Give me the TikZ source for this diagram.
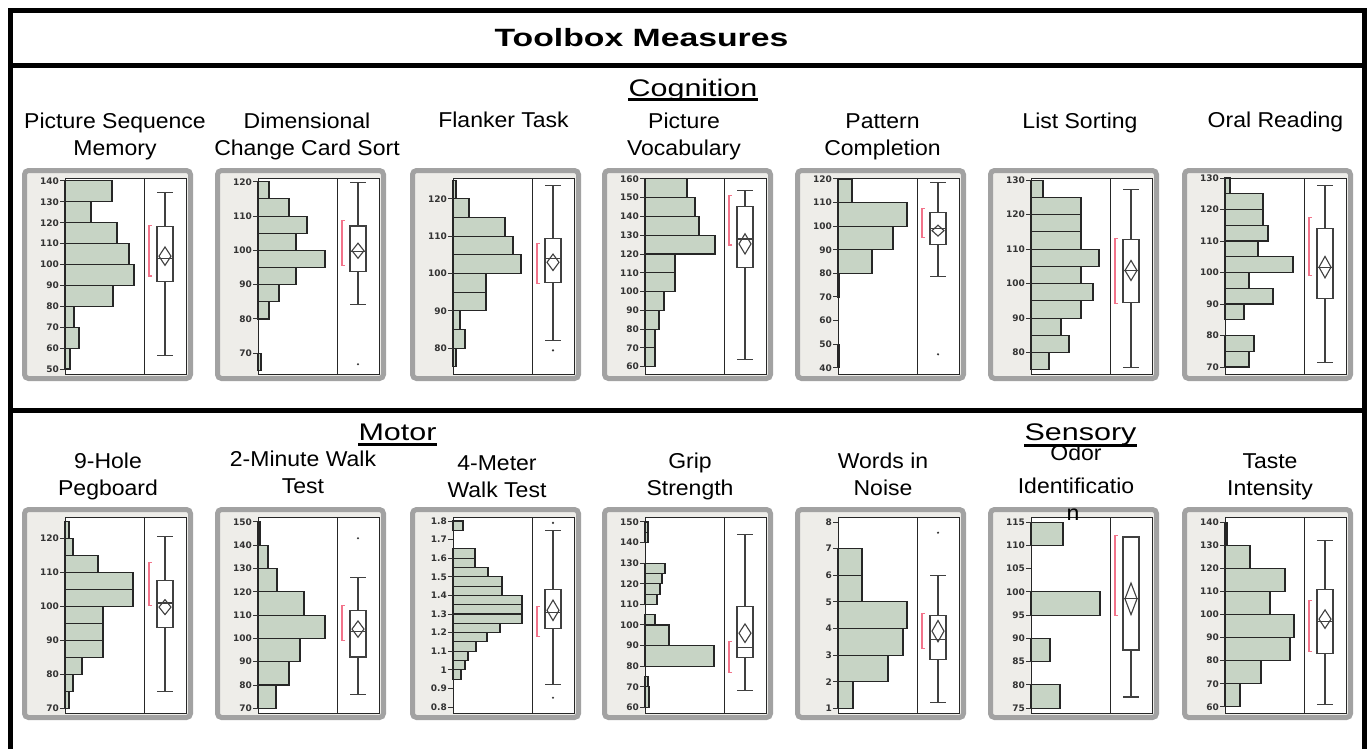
\documentclass[tikz,border=0pt]{standalone}
\usepackage{fontspec}
\setmainfont{Liberation Sans}
\newfontfamily\titlefont{Liberation Sans}[FakeStretch=1.35]
\newfontfamily\headfont{Liberation Sans}[FakeStretch=1.27]
\newfontfamily\labelfont{Liberation Sans}[FakeStretch=1.07]
\newfontfamily\tickfont{DejaVu Sans}
\usepackage{tikz}
\definecolor{barG}{HTML}{C7D4C5}
\definecolor{axisG}{HTML}{EEEDE9}
\definecolor{frameG}{HTML}{A2A2A2}
\definecolor{halfR}{HTML}{F2738A}

% one JMP panel: #1 name, #2 x, #3 y, #4 value at plot top, #5 px per unit,
% #6 ticks, #7 bars lo/hi/len, #8 box, #9 outliers
\newcommand{\histpanel}[9]{%
  \begin{scope}[shift={(#2,#3)}]
    \path[panelframe] (2.5,2.5) rectangle (168.5,210.5);
    \path[plotarea] (43,10) rectangle (164,206);
  \end{scope}
  \begin{scope}[shift={(#2,{#3+10+#4*#5})}, y=#5pt]
    \foreach \lo/\hi/\len in {#7}
      \draw[bar] (43,\lo) rectangle ({43+\len},\hi);
    \foreach \v [count=\k] in {#6} {
      \draw[tickmark] (38,\v) -- (43,\v);
      \node[ticklab] (#1-\k) at (37,\v) {\v};
    }
    \foreach \wlo/\qa/\med/\qc/\whi/\mean/\dhalf/\blo/\bhi in {#8} {
      \draw[whisk] (143,\wlo) -- (143,\whi) (135,\wlo) -- (151,\wlo) (135,\whi) -- (151,\whi);
      \draw[whisk, fill=white] (135,\qa) rectangle (151,\qc);
      \draw[whisk] (135,\med) -- (151,\med);
      \draw[whisk] (137,\mean) -- (143,{\mean+\dhalf}) -- (149,\mean) -- (143,{\mean-\dhalf}) -- cycle;
      \draw[shorthalf] (130,\blo) -- (127,\blo) -- (127,\bhi) -- (130,\bhi);
    }
    \def\panelout{#9}%
    \ifx\panelout\empty\else
      \foreach \o in {#9} \fill[outlier] (143,\o) circle[radius=1.2pt];
    \fi
  \end{scope}
  \begin{scope}[shift={(#2,#3)}]
    \draw[plotline] (43,10) rectangle (164,206) (122,10) -- (122,206);
  \end{scope}
}

\begin{document}
\begin{tikzpicture}[x=1pt, y=-1pt,
  heavy/.style={line width=5pt, draw=black},
  titletext/.style={font=\titlefont\bfseries\fontsize{25}{30}\selectfont, anchor=base, inner sep=0pt},
  head/.style={font=\headfont\fontsize{24}{28}\selectfont, anchor=base, inner sep=0pt},
  uline/.style={line width=3pt, draw=black},
  measure/.style={font=\labelfont\fontsize{21.5}{27}\selectfont, align=center, anchor=base, inner sep=0pt},
  panelframe/.style={draw=frameG, fill=axisG, line width=5pt, rounded corners=4pt},
  plotarea/.style={fill=white},
  plotline/.style={draw=black!85, line width=1pt},
  bar/.style={draw=black!85, fill=barG, line width=1.1pt},
  tickmark/.style={draw=black!80, line width=1pt},
  ticklab/.style={font=\tickfont\bfseries\fontsize{9}{10}\selectfont, text=black!80, anchor=east, inner sep=0pt},
  whisk/.style={draw=black!75, line width=1.1pt},
  shorthalf/.style={draw=halfR, line width=1.1pt},
  outlier/.style={fill=black!80},
  ]
\useasboundingbox (0,0) rectangle (1370,748);
% ---- frames
\draw[heavy] (10,10.5) rectangle (1364,410);
\draw[heavy] (10,65.5) -- (1364,65.5);
\draw[heavy] (10,410) rectangle (1364,760);
\node[titletext] (title) at (641.5,46) {Toolbox Measures};
% ---- cognition (base anchor sits on the last line)
\node[head] (cog) at (693,96.5) {Cognition};
\draw[uline] ([yshift=-3pt]cog.base west) -- ([yshift=-3pt]cog.base east);
\node[measure] (seqlab) at (115,155.5) {Picture Sequence\\Memory};
\node[measure] (dccslab) at (307,155) {Dimensional\\Change Card Sort};
\node[measure] (flanklab) at (503.5,127.5) {Flanker Task};
\node[measure] (vocablab) at (684,155) {Picture\\Vocabulary};
\node[measure] (patlab) at (882.5,155) {Pattern\\Completion};
\node[measure] (listlab) at (1080,128) {List Sorting};
\node[measure] (readlab) at (1275.5,127.5) {Oral Reading};
\histpanel{seqmem}{22}{168}{141.4}{2.09}{50,60,...,140}
  {130/140/47, 120/130/26, 110/120/52, 100/110/64, 90/100/69, 80/90/48, 70/80/9, 60/70/14, 50/60/5}
  {56.3/91.8/103/118.1/134.4/104/4.4/94.5/118.5}{}
\histpanel{dccs}{215}{168}{121.1}{3.43}{70,80,...,120}
  {115/120/11, 110/115/31, 105/110/49, 100/105/38, 95/100/67, 90/95/38, 85/90/21, 80/85/11, 65/70/3}
  {84.3/93.8/99.6/107.1/119.8/99.9/2.2/95.7/108.8}{66.8}
\histpanel{flank}{410}{168}{125.6}{3.73}{80,90,...,120}
  {120/125/3, 115/120/16, 110/115/52, 105/110/60, 100/105/68, 95/100/33, 90/95/33, 85/90/7, 80/85/12, 75/80/3}
  {82.1/97.7/104.1/109.5/123.6/103/2.2/97.4/108.1}{79.4}
\histpanel{vocab}{602}{168}{160.5}{1.877}{60,70,...,160}
  {150/160/42, 140/150/50, 130/140/54, 120/130/70, 110/120/30, 100/110/30, 90/100/19, 80/90/14, 70/80/10, 60/70/10}
  {63.9/112.8/128/145.3/153.8/125.4/5.4/124.8/151}{}
\histpanel{pattern}{795}{168}{120.4}{2.36}{40,50,...,120}
  {110/120/14, 100/110/69, 90/100/55, 80/90/34, 70/80/1, 40/50/1}
  {78.6/92.3/99.1/105.9/118.6/98.1/2.3/95.2/107.6}{45.7}
\histpanel{listsort}{988}{168}{130.6}{3.45}{80,90,...,130}
  {125/130/12, 120/125/50, 115/120/50, 110/115/50, 105/110/68, 100/105/50, 95/100/62, 90/95/50, 85/90/30, 80/85/38, 75/80/18}
  {75.8/94.4/103.8/112.8/127.3/103.8/2.9/94.2/113.1}{}
\histpanel{reading}{1182}{168}{130}{3.15}{70,80,...,130}
  {125/130/5, 120/125/38, 115/120/38, 110/115/43, 105/110/33, 100/105/68, 95/100/24, 90/95/48, 85/90/19, 75/80/29, 70/75/24}
  {71.4/91.7/101.7/113.9/127.5/101.7/3.4/99/117.5}{}
% ---- motor and sensory
\node[head] (motor) at (397.5,440) {Motor};
\draw[uline] ([yshift=-4pt]motor.base west) -- ([yshift=-4pt]motor.base east);
\node[head] (sensory) at (1080.5,440) {Sensory};
\draw[uline] ([yshift=-5pt]sensory.base west) -- ([yshift=-5pt]sensory.base east);
\node[measure] (peglab) at (108,495) {9-Hole\\Pegboard};
\node[measure] (walktwolab) at (303,493) {2-Minute Walk\\Test};
\node[measure] (walkfourlab) at (497,497) {4-Meter\\Walk Test};
\node[measure] (griplab) at (690,495) {Grip\\Strength};
\node[measure] (noiselab) at (883,495) {Words in\\Noise};
\node[measure] (odorlab) at (1076,493) {Odor\\[6pt]Identificatio};
\node[measure] (tastelab) at (1270,495) {Taste\\Intensity};
\histpanel{peg}{22}{507}{126.3}{3.4}{70,80,...,120}
  {120/125/4, 115/120/8, 110/115/33, 105/110/68, 100/105/68, 95/100/38, 90/95/38, 85/90/38, 80/85/17, 75/80/8, 70/75/4}
  {74.9/93.7/101/107.5/120.5/99.8/2.2/100.2/113}{}
\histpanel{walktwo}{215}{507}{152.1}{2.33}{70,80,...,150}
  {140/150/2, 130/140/10, 120/130/19, 110/120/46, 100/110/67, 90/100/42, 80/90/31, 70/80/18}
  {76/92/103/112/126/104/3.5/99/114}{143}
\histpanel{walkfour}{410}{507}{1.8215}{186}{0.8,0.9,1,1.1,1.2,1.3,1.4,1.5,1.6,1.7,1.8}
  {1.75/1.8/10, 1.6/1.65/22, 1.55/1.6/22, 1.5/1.55/35, 1.45/1.5/49, 1.4/1.45/49, 1.35/1.4/69, 1.3/1.35/69, 1.25/1.3/69, 1.2/1.25/47, 1.15/1.2/34, 1.1/1.15/23, 1.05/1.1/15, 1/1.05/12, 0.95/1/8}
  {0.92/1.22/1.31/1.43/1.75/1.32/0.055/1.18/1.34}{1.79,0.85}
\histpanel{grip}{602}{507}{152.4}{2.06}{60,70,...,150}
  {145/150/3, 140/145/3, 125/130/20, 120/125/17, 115/120/15, 110/115/12, 100/105/10, 90/100/24, 80/90/69, 70/75/3, 60/70/4}
  {68/84/89/109/144/96/4.5/77/92}{}
\histpanel{noise}{795}{507}{8.19}{26.6}{1,2,...,8}
  {6/7/24, 5/6/24, 4/5/69, 3/4/65, 2/3/50, 1/2/15}
  {1.2/2.85/3.6/4.5/6/3.9/0.4/3.25/4.55}{7.6}
\histpanel{odor}{988}{507}{116.1}{4.65}{75,80,...,115}
  {110/115/32, 95/100/69, 85/90/19, 75/80/29}
  {77.4/87.5/98.5/111.8/111.8/98.5/3.4/95/112.2}{}
\histpanel{taste}{1182}{507}{142.2}{2.31}{60,70,...,140}
  {130/140/2, 120/130/25, 110/120/60, 100/110/45, 90/100/69, 80/90/65, 70/80/36, 60/70/15}
  {61/83/97/111/132/98/4/84/106}{}
\node[measure] (odorn) at (1073,520) {n};
\end{tikzpicture}
\end{document}
